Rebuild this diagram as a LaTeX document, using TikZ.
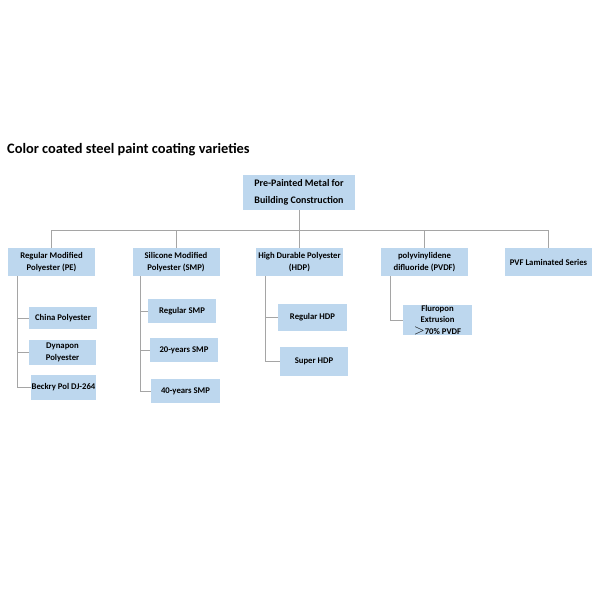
\documentclass[tikz,border=0pt]{standalone}
\usepackage{fontspec}
\setmainfont{Carlito}
\usetikzlibrary{positioning}

\definecolor{boxblue}{HTML}{BDD7EE}
\definecolor{linkgray}{HTML}{A5A5A5}

\begin{document}
\begin{tikzpicture}[x=1pt, y=-1pt,
  box/.style={fill=boxblue, align=center, inner sep=0pt,
    font=\bfseries\fontsize{8.7}{11.5}\selectfont},
  link/.style={draw=linkgray, line width=0.8pt}]
  \useasboundingbox[fill=white] (0,0) rectangle (600,600);

  % Title
  \node[anchor=base west, inner sep=0pt, font=\bfseries\fontsize{14.4}{16}\selectfont]
    (title) at (7,153) {Color coated steel paint coating varieties};

  % Root
  \node[box, minimum width=112pt, minimum height=35pt,
    font=\bfseries\fontsize{10}{17}\selectfont]
    (root) at (299,192.5) {Pre-Painted Metal for\\Building Construction};
  \coordinate (bus) at (299,230);

  % First level
  \foreach \n/\x/\lbl in {pe/51.5/{Regular Modified\\Polyester (PE)},
      smp/176/{Silicone Modified\\Polyester (SMP)},
      hdp/299.5/{High Durable Polyester\\(HDP)},
      pvdf/424.5/{polyvinylidene\\difluoride (PVDF)},
      pvf/548.5/{PVF Laminated Series}} {
    \node[box, minimum width=87pt, minimum height=28pt] (\n) at (\x,262) {\lbl};
    \draw[link] (root.south) -- (root.south |- bus) -| (\n.north);
  }

  % Second level
  \coordinate (pe-rail) at (17,276);
  \coordinate (smp-rail) at (140,276);
  \coordinate (hdp-rail) at (265,276);
  \coordinate (pvdf-rail) at (390,276);

  \foreach \n/\r/\x/\y/\w/\h/\lbl in {
      china/pe/63/318/68/22/{China Polyester},
      dyna/pe/62.5/352.5/67/25/{Dynapon\\Polyester},
      beck/pe/63.5/387.5/65/25/{Beckry Pol DJ-264},
      rsmp/smp/182/311/68/24/{Regular SMP},
      tsmp/smp/184/350/68/24/{20-years SMP},
      fsmp/smp/185.5/391/69/24/{40-years SMP},
      rhdp/hdp/312.5/317.5/69/27/{Regular HDP},
      shdp/hdp/314/361.5/68/29/{Super HDP},
      flur/pvdf/437.5/320/69/28/{Fluropon\\Extrusion\\{\Large$>$}70\% PVDF}} {
    \node[box, minimum width=\w pt, minimum height=\h pt] (\n) at (\x,\y) {\lbl};
    \draw[link] (\r-rail) |- (\n.west);
  }
\end{tikzpicture}
\end{document}
